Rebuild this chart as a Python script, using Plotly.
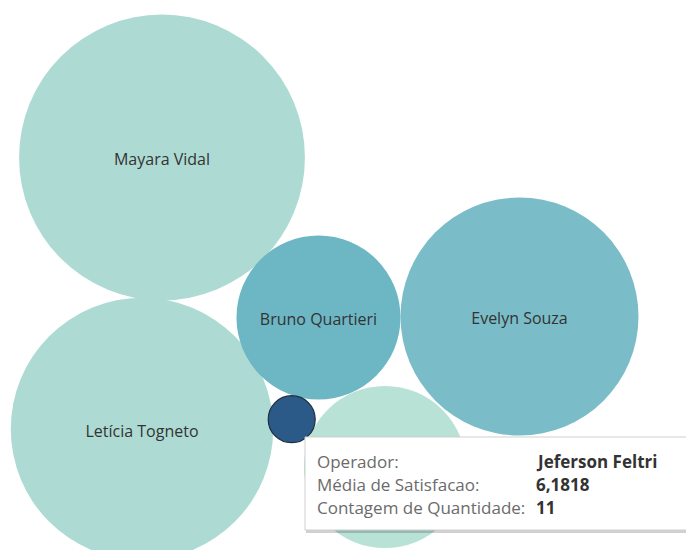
import plotly.graph_objects as go

# ---- data ----
operadores = ["Mayara Vidal", "Letícia Togneto", "Bruno Quartieri", "Evelyn Souza", "", "Jeferson Feltri"]
contagem = [407, 343, 134, 282, 131, 11]          # Contagem de Quantidade (bubble size)
satisfacao = [None, None, None, None, None, 6.1818]  # Média de Satisfacao (only the hovered one is known)

# ---- packed bubble layout (pixel positions of the packing) ----
pos_x = [162, 142, 318.5, 519.5, 385, 291.7]
pos_y = [157.5, 429, 317.5, 316.5, 467, 419.2]
colors = ["#addbd4", "#addbd4", "#6db7c5", "#7abdc8", "#b9e2d7", "#2c5a88"]
line_colors = ["rgba(0,0,0,0)"] * 5 + ["#1c2e40"]
line_widths = [0, 0, 0, 0, 0, 1.2]
show_label = [True, True, True, True, False, False]
label_dy = 3.5

W, H = 686, 550
ref_count, ref_diam = contagem[5], 47.0
sizes = [ref_diam * (c / ref_count) ** 0.5 for c in contagem]
labels = [n if s else "" for n, s in zip(operadores, show_label)]

fig = go.Figure()
fig.add_trace(go.Scatter(
    x=pos_x, y=pos_y, mode="markers",
    marker=dict(size=sizes, sizemode="diameter", color=colors, opacity=1,
                line=dict(color=line_colors, width=line_widths)),
    hoverinfo="skip", showlegend=False,
))
fig.add_trace(go.Scatter(
    x=pos_x, y=[v + label_dy for v in pos_y], mode="text",
    text=labels, textposition="middle center",
    textfont=dict(family="Open Sans", size=16, color="#333333"),
    hoverinfo="skip", showlegend=False,
))

# ---- tooltip ----
tx0, ty0, tx1, ty1 = 305, 437, 700, 530
fig.add_shape(type="rect", xref="x", yref="y", x0=tx0 + 1, y0=ty0 + 2, x1=tx1 + 3, y1=ty1 + 3,
              fillcolor="rgba(0,0,0,0.18)", line=dict(width=0), layer="above")
fig.add_shape(type="rect", xref="x", yref="y", x0=tx0, y0=ty0, x1=tx1, y1=ty1,
              fillcolor="white", line=dict(color="#cfcfcf", width=1), layer="above")

tip_labels = ["Operador:", "Média de Satisfacao:", "Contagem de Quantidade:"]
tip_values = [operadores[5], f"{satisfacao[5]:.4f}".replace(".", ","), str(contagem[5])]
line_y = [461.5, 484.5, 507.5]
for lab, val, yy in zip(tip_labels, tip_values, line_y):
    fig.add_annotation(x=315, y=yy, xref="x", yref="y", text=lab, showarrow=False,
                       xanchor="left", yanchor="middle",
                       font=dict(family="Open Sans", size=17, color="#6b6b6b"))
    fig.add_annotation(x=534, y=yy, xref="x", yref="y", text=f"<b>{val}</b>", showarrow=False,
                       xanchor="left", yanchor="middle",
                       font=dict(family="Open Sans", size=17, color="#333333"))

fig.update_layout(
    width=W, height=H, margin=dict(l=0, r=0, t=0, b=0),
    paper_bgcolor="white", plot_bgcolor="white",
    xaxis=dict(range=[0, W], visible=False, fixedrange=True),
    yaxis=dict(range=[H, 0], visible=False, fixedrange=True),
    hovermode=False,
)
fig.write_html("out.html", config={"displayModeBar": False},
               post_script="document.body.style.margin='0';document.body.style.overflow='hidden';")
